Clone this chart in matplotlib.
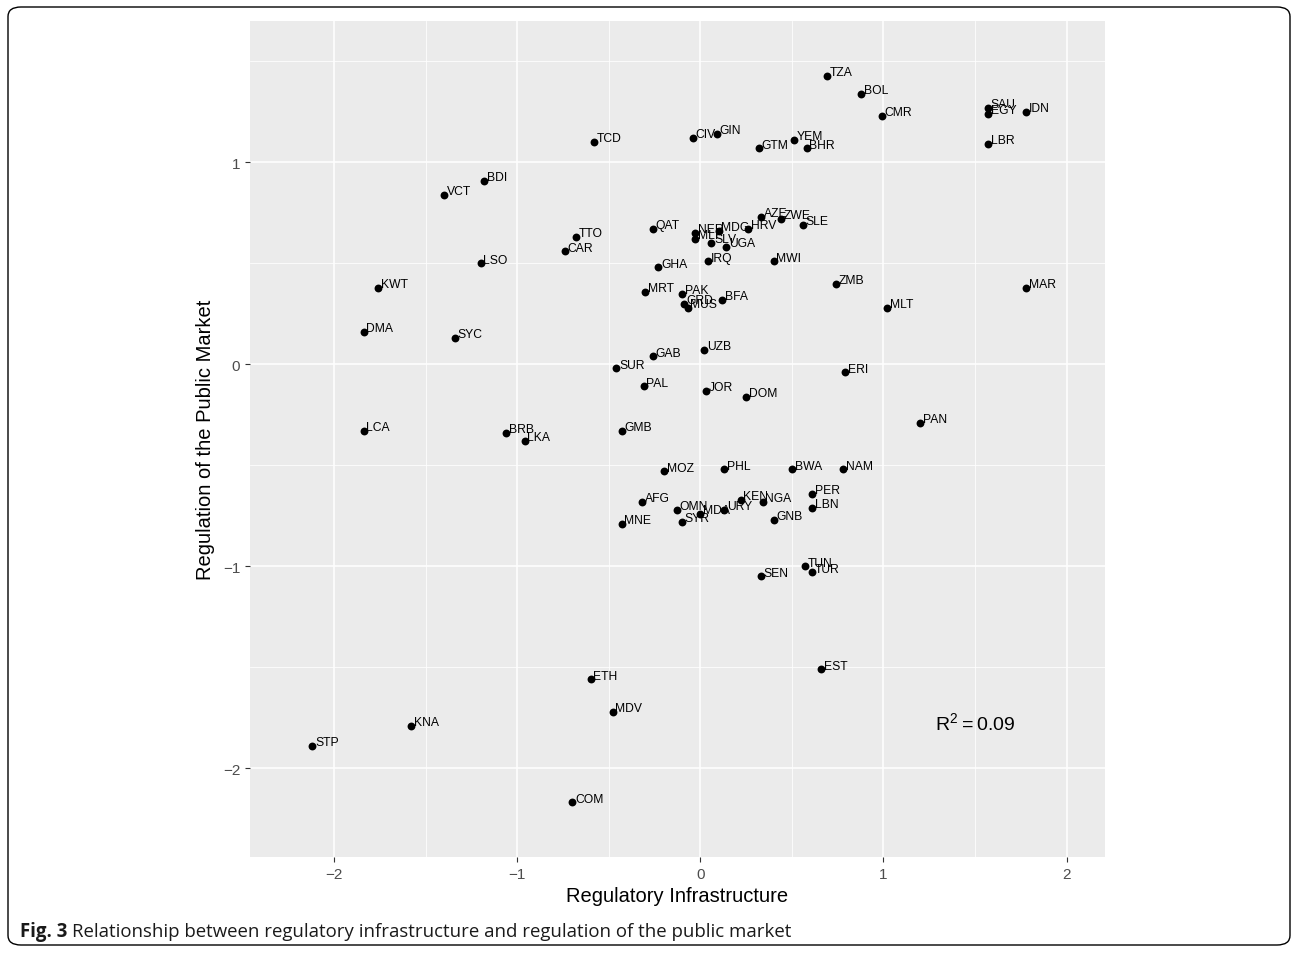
import matplotlib
matplotlib.use("Agg")
import matplotlib.pyplot as plt
from matplotlib.patches import FancyBboxPatch

# country codes and the two scores
codes = ["TZA", "BOL", "CMR", "SAU", "EGY", "IDN", "LBR", "TCD", "CIV", "GIN",
         "GTM", "YEM", "BHR", "BDI", "VCT", "AZE", "ZWE", "SLE", "HRV", "MDG",
         "NER", "MLI", "SLV", "UGA", "QAT", "TTO", "CAR", "LSO", "IRQ", "MWI",
         "GHA", "KWT", "ZMB", "MAR", "MRT", "PAK", "GRD", "MUS", "BFA", "MLT",
         "DMA", "SYC", "UZB", "GAB", "SUR", "ERI", "PAL", "JOR", "DOM", "PAN",
         "LCA", "BRB", "LKA", "GMB", "MOZ", "PHL", "BWA", "NAM", "PER", "LBN",
         "AFG", "OMN", "MDA", "URY", "KEN", "NGA", "GNB", "MNE", "SYR", "TUN",
         "TUR", "SEN", "EST", "ETH", "MDV", "KNA", "STP", "COM"]
infra = [0.69, 0.88, 0.99, 1.57, 1.57, 1.78, 1.57, -0.58, -0.04, 0.09,
         0.32, 0.51, 0.58, -1.18, -1.40, 0.33, 0.44, 0.56, 0.26, 0.10,
         -0.03, -0.03, 0.06, 0.14, -0.26, -0.68, -0.74, -1.20, 0.04, 0.40,
         -0.23, -1.76, 0.74, 1.78, -0.30, -0.10, -0.09, -0.07, 0.12, 1.02,
         -1.84, -1.34, 0.02, -0.26, -0.46, 0.79, -0.31, 0.03, 0.25, 1.20,
         -1.84, -1.06, -0.96, -0.43, -0.20, 0.13, 0.50, 0.78, 0.61, 0.61,
         -0.32, -0.13, 0.00, 0.13, 0.22, 0.34, 0.40, -0.43, -0.10, 0.57,
         0.61, 0.33, 0.66, -0.60, -0.48, -1.58, -2.12, -0.70]
public = [1.43, 1.34, 1.23, 1.27, 1.24, 1.25, 1.09, 1.10, 1.12, 1.14,
          1.07, 1.11, 1.07, 0.91, 0.84, 0.73, 0.72, 0.69, 0.67, 0.66,
          0.65, 0.62, 0.60, 0.58, 0.67, 0.63, 0.56, 0.50, 0.51, 0.51,
          0.48, 0.38, 0.40, 0.38, 0.36, 0.35, 0.30, 0.28, 0.32, 0.28,
          0.16, 0.13, 0.07, 0.04, -0.02, -0.04, -0.11, -0.13, -0.16, -0.29,
          -0.33, -0.34, -0.38, -0.33, -0.53, -0.52, -0.52, -0.52, -0.64, -0.71,
          -0.68, -0.72, -0.74, -0.72, -0.67, -0.68, -0.77, -0.79, -0.78, -1.00,
          -1.03, -1.05, -1.51, -1.56, -1.72, -1.79, -1.89, -2.17]
r2_text = r"$\mathregular{R^2 = 0.09}$"

plt.rcParams['font.family'] = ['Liberation Sans', 'DejaVu Sans']

fig = plt.figure(figsize=(12.96, 9.54), dpi=100)
ax = fig.add_axes([250/1296, 96/954, 855/1296, 836/954])
ax.set_facecolor("#EBEBEB")
for s in ax.spines.values():
    s.set_visible(False)

ax.set_xlim(-2.46, 2.21)
ax.set_ylim(-2.44, 1.70)
ax.set_xticks([-2, -1, 0, 1, 2])
ax.set_yticks([-2, -1, 0, 1])
ax.set_xticklabels(["\u22122", "\u22121", "0", "1", "2"])
ax.set_yticklabels(["\u22122", "\u22121", "0", "1"])
ax.set_xticks([-1.5, -0.5, 0.5, 1.5], minor=True)
ax.set_yticks([-1.5, -0.5, 0.5, 1.5], minor=True)
ax.grid(True, which="major", color="white", lw=1.1)
ax.grid(True, which="minor", color="white", lw=0.55)
ax.set_axisbelow(True)
ax.tick_params(which="major", length=3.5, color="#333333", labelsize=11,
               labelcolor="#4D4D4D")
ax.tick_params(which="minor", length=0)

ax.scatter(infra, public, s=32, color="black", zorder=3, linewidths=0)
for c, xv, yv in zip(codes, infra, public):
    ax.annotate(c, (xv, yv), xytext=(2, 0.5), textcoords="offset points",
                fontsize=8.7, ha="left", va="baseline", zorder=4)

ax.text(1.50, -1.77, r2_text, fontsize=14, ha="center", va="center")

ax.set_xlabel("Regulatory Infrastructure", fontsize=14.5, labelpad=4)
ax.set_ylabel("Regulation of the Public Market", fontsize=14.5, labelpad=6)

# border round the whole figure
fig.patches.append(FancyBboxPatch((8/1296, 8/954), 1282/1296, 938/954,
                                  boxstyle="round,pad=0,rounding_size=0.01",
                                  transform=fig.transFigure, fill=False,
                                  ec="black", lw=1.0))

cap_font = ['Open Sans', 'Liberation Sans', 'DejaVu Sans']
t1 = fig.text(20/1296, 1 - 932/954, "Fig. 3", fontsize=13.4, fontweight="bold",
              family=cap_font, va="center", color="#1a1a1a")
fig.canvas.draw()
bb = t1.get_window_extent()
fig.text((bb.x1 + 5)/1296, 1 - 932/954,
         "Relationship between regulatory infrastructure and regulation of the public market",
         fontsize=13.4, family=cap_font, va="center", color="#1a1a1a")

fig.savefig("out.png", dpi=100)
